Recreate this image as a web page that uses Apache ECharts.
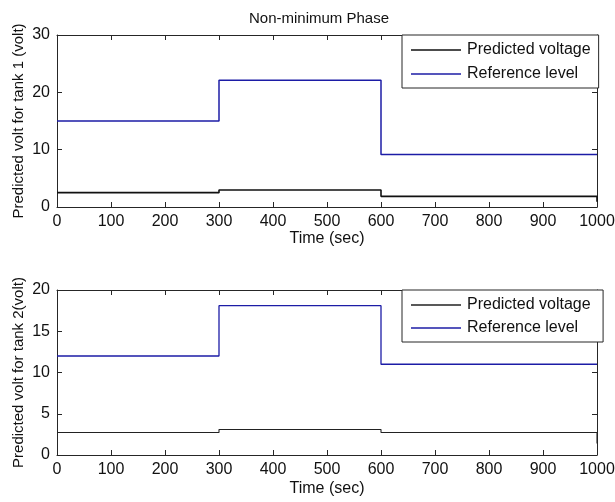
<!DOCTYPE html>
<html>
<head>
<meta charset="utf-8">
<script src="https://cdn.jsdelivr.net/npm/echarts@6/dist/echarts.min.js"></script>
<style>
  html, body { margin: 0; padding: 0; background: #fff; }
  #chart { width: 615px; height: 502px; }
</style>
</head>
<body>
<div id="chart"></div>
<script>
// Step breakpoints (sec) shared by both tanks
const timeBreaks = [0, 300, 600, 1000];

// Tank 1 signals (volt)
const refTank1 = [15, 22.1, 9.15, 9.15];
const voltTank1 = [2.5, 2.97, 1.86, 1.86];
const voltTank1End = 0.9;

// Tank 2 signals (volt)
const refTank2 = [12, 18.1, 11, 11];
const voltTank2 = [2.72, 3.1, 2.72, 2.72];
const voltTank2End = 1.4;

const xTicks = { min: 0, max: 1000, interval: 100 };
const yTicks1 = { min: 0, max: 30, interval: 10 };
const yTicks2 = { min: 0, max: 20, interval: 5 };

const seriesNames = ['Predicted voltage', 'Reference level'];
const yNames = ['Predicted volt for tank 1 (volt)', 'Predicted volt for tank 2(volt)'];
const xName = 'Time (sec)';
const titleText = 'Non-minimum Phase';

const FONT = '"Liberation Sans", Arial, sans-serif';
const AXIS_COLOR = '#262626';
const BLUE = '#1c1ca6';

function pairs(values, endValue) {
  const pts = timeBreaks.map((t, i) => [t, values[i]]);
  if (endValue !== undefined) pts.push([timeBreaks[timeBreaks.length - 1], endValue]);
  return pts;
}

const plainNumber = v => String(v);

function xAxes(gridIndex, nameGap) {
  const common = {
    type: 'value', gridIndex,
    min: xTicks.min, max: xTicks.max, interval: xTicks.interval,
    splitLine: { show: false },
    axisLine: { show: true, onZero: false, lineStyle: { color: AXIS_COLOR, width: 1 } },
    axisTick: { show: true, inside: true, length: 5, lineStyle: { color: AXIS_COLOR } }
  };
  return [
    Object.assign({}, common, {
      position: 'bottom',
      name: xName, nameLocation: 'middle', nameGap, nameMoveOverlap: false,
      nameTextStyle: { fontFamily: FONT, fontSize: 16, color: '#111' },
      axisLabel: { fontFamily: FONT, fontSize: 16, color: '#111', margin: 7, formatter: plainNumber }
    }),
    Object.assign({}, common, { position: 'top', axisLabel: { show: false } })
  ];
}

function yAxes(gridIndex, ticks, name) {
  const common = {
    type: 'value', gridIndex,
    min: ticks.min, max: ticks.max, interval: ticks.interval,
    splitLine: { show: false },
    axisLine: { show: true, onZero: false, lineStyle: { color: AXIS_COLOR, width: 1 } },
    axisTick: { show: true, inside: true, length: 5, lineStyle: { color: AXIS_COLOR } }
  };
  return [
    Object.assign({}, common, {
      position: 'left',
      name, nameLocation: 'middle', nameGap: 31, nameMoveOverlap: false,
      nameTextStyle: { fontFamily: FONT, fontSize: 15, color: '#111' },
      axisLabel: { fontFamily: FONT, fontSize: 16, color: '#111', margin: 7, formatter: plainNumber }
    }),
    Object.assign({}, common, { position: 'right', axisLabel: { show: false } })
  ];
}

function legendFor(top, gap) {
  return {
    orient: 'vertical',
    left: 402, top,
    backgroundColor: '#fff',
    borderColor: AXIS_COLOR, borderWidth: 1,
    padding: [7, 8, 6, 9],
    itemGap: gap,
    itemWidth: 50, itemHeight: 1.5,
    icon: 'rect',
    textStyle: { fontFamily: FONT, fontSize: 16, color: '#111', lineHeight: 16, padding: [0, 0, 0, 1] },
    selectedMode: false
  };
}

function stepSeries(name, data, xi, yi, color, width) {
  return {
    name, type: 'line', step: 'end',
    xAxisIndex: xi, yAxisIndex: yi,
    data, symbol: 'none', animation: false,
    lineStyle: { color, width }, itemStyle: { color },
    z: 3
  };
}

const chart = echarts.init(document.getElementById('chart'), null, { renderer: 'canvas' });
const l1 = legendFor(35, 8);
l1.data = seriesNames;
const l2 = legendFor(290, 7);
l2.data = seriesNames.map(n => n + ' ');

chart.setOption({
  animation: false,
  backgroundColor: '#fff',
  title: {
    text: titleText, left: 244, top: 6,
    textStyle: { fontFamily: FONT, fontSize: 15, fontWeight: 'normal', color: '#111' }
  },
  legend: [l1, l2],
  grid: [
    { left: 57, right: 18, top: 35, height: 172, containLabel: false, outerBoundsMode: 'none' },
    { left: 57, right: 18, top: 290, height: 165, containLabel: false, outerBoundsMode: 'none' }
  ],
  xAxis: [...xAxes(0, 24), ...xAxes(1, 26)],
  yAxis: [...yAxes(0, yTicks1, yNames[0]), ...yAxes(1, yTicks2, yNames[1])],
  series: [
    stepSeries(seriesNames[0], pairs(voltTank1, voltTank1End), 0, 0, '#111', 1.6),
    stepSeries(seriesNames[1], pairs(refTank1), 0, 0, BLUE, 1.5),
    stepSeries(seriesNames[0] + ' ', pairs(voltTank2, voltTank2End), 2, 2, '#222', 1.1),
    stepSeries(seriesNames[1] + ' ', pairs(refTank2), 2, 2, BLUE, 1.3)
  ]
});
</script>
</body>
</html>
